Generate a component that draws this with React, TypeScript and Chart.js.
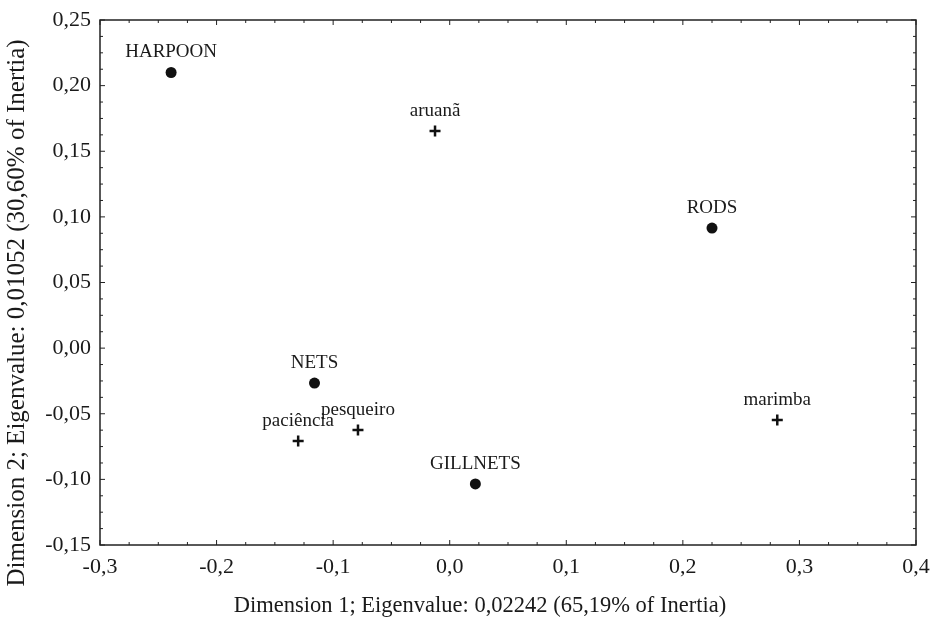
import React, { useEffect, useRef } from "react";
import { Chart, registerables } from "chart.js";

Chart.register(...registerables);

// Column categories (circles)
const categoryLabels = ["HARPOON", "RODS", "NETS", "GILLNETS"];
const categoryX = [-0.239, 0.225, -0.116, 0.022];
const categoryY = [0.21, 0.0915, -0.0266, -0.1035];

// Row points (crosses)
const siteLabels = ["aruanã", "pesqueiro", "paciência", "marimba"];
const siteX = [-0.0126, -0.0787, -0.13, 0.281];
const siteY = [0.1654, -0.0624, -0.0708, -0.0548];

const xTickValues = [-0.3, -0.2, -0.1, 0.0, 0.1, 0.2, 0.3, 0.4];
const yTickValues = [-0.15, -0.1, -0.05, 0.0, 0.05, 0.1, 0.15, 0.2, 0.25];

const xTitle = "Dimension 1; Eigenvalue: 0,02242 (65,19% of Inertia)";
const yTitle = "Dimension 2; Eigenvalue: 0,01052 (30,60% of Inertia)";

const FONT = "'Liberation Serif', 'Times New Roman', serif";
const INK = "#1a1a1a";

const pointLabelsPlugin = {
  id: "pointLabels",
  afterDatasetsDraw(chart: any) {
    const ctx = chart.ctx;
    ctx.save();
    ctx.fillStyle = INK;
    ctx.textAlign = "center";
    ctx.textBaseline = "middle";
    chart.data.datasets.forEach((ds: any, di: number) => {
      const meta = chart.getDatasetMeta(di);
      ctx.font = `${ds.labelFontSize}px ${FONT}`;
      meta.data.forEach((el: any, i: number) => {
        ctx.fillText(ds.pointNames[i], el.x, el.y - 20);
      });
    });
    ctx.restore();
  },
};

const frameAndTitlesPlugin = {
  id: "frameAndTitles",
  afterDraw(chart: any) {
    const ctx = chart.ctx;
    const { left, right, top, bottom } = chart.chartArea;
    const xs = chart.scales.x;
    const ys = chart.scales.y;
    ctx.save();
    ctx.strokeStyle = "#222";
    ctx.lineWidth = 1.5;
    ctx.strokeRect(left, top, right - left, bottom - top);

    // minor/major inward ticks
    ctx.lineWidth = 1;
    ctx.beginPath();
    for (let v = -0.3; v <= 0.4001; v += 0.025) {
      const px = xs.getPixelForValue(v);
      const major = Math.abs(v * 10 - Math.round(v * 10)) < 1e-6;
      const len = major ? 5 : 3;
      ctx.moveTo(px, bottom);
      ctx.lineTo(px, bottom - len);
      ctx.moveTo(px, top);
      ctx.lineTo(px, top + len);
    }
    for (let v = -0.15; v <= 0.2501; v += 0.0125) {
      const py = ys.getPixelForValue(v);
      const major = Math.abs(v * 20 - Math.round(v * 20)) < 1e-6;
      const len = major ? 5 : 3;
      ctx.moveTo(left, py);
      ctx.lineTo(left + len, py);
      ctx.moveTo(right, py);
      ctx.lineTo(right - len, py);
    }
    ctx.stroke();

    // axis titles
    ctx.fillStyle = INK;
    ctx.font = `22.5px ${FONT}`;
    ctx.textAlign = "center";
    ctx.textBaseline = "middle";
    ctx.fillText(xTitle, 480, 606);
    ctx.save();
    ctx.translate(17, 313);
    ctx.rotate(-Math.PI / 2);
    ctx.font = `25px ${FONT}`;
    ctx.fillText(yTitle, 0, 0);
    ctx.restore();
    ctx.restore();
  },
};

export default function App() {
  const canvasRef = useRef<HTMLCanvasElement | null>(null);

  useEffect(() => {
    if (!canvasRef.current) return;
    const chart = new Chart(canvasRef.current, {
      type: "scatter",
      data: {
        datasets: [
          {
            label: "categories",
            data: categoryX.map((x, i) => ({ x, y: categoryY[i] })),
            pointNames: categoryLabels,
            labelFontSize: 19,
            pointStyle: "circle",
            pointRadius: 5.5,
            backgroundColor: "#111",
            borderColor: "#111",
            borderWidth: 0,
          } as any,
          {
            label: "sites",
            data: siteX.map((x, i) => ({ x, y: siteY[i] })),
            pointNames: siteLabels,
            labelFontSize: 19,
            pointStyle: "cross",
            pointRadius: 5.5,
            backgroundColor: "#111",
            borderColor: "#111",
            borderWidth: 2.5,
          } as any,
        ],
      },
      options: {
        animation: false,
        responsive: false,
        maintainAspectRatio: false,
        layout: { padding: { top: 20, right: 16, left: 0, bottom: 0 } },
        plugins: {
          legend: { display: false },
          tooltip: { enabled: false },
          title: { display: false },
        },
        scales: {
          x: {
            type: "linear",
            min: -0.3,
            max: 0.4,
            afterBuildTicks: (scale: any) => {
              scale.ticks = xTickValues.map((v) => ({ value: v }));
            },
            afterFit: (scale: any) => {
              scale.height = 81;
              scale.paddingLeft = 0;
              scale.paddingRight = 0;
            },
            grid: { display: false, drawTicks: false },
            border: { display: false },
            ticks: {
              padding: 9,
              color: INK,
              font: { family: FONT, size: 22 },
              callback: (v: any) => Number(v).toFixed(1).replace(".", ","),
              maxRotation: 0,
            },
          },
          y: {
            type: "linear",
            min: -0.15,
            max: 0.25,
            afterBuildTicks: (scale: any) => {
              scale.ticks = yTickValues.map((v) => ({ value: v }));
            },
            afterFit: (scale: any) => {
              scale.width = 100;
              scale.paddingTop = 0;
              scale.paddingBottom = 0;
            },
            grid: { display: false, drawTicks: false },
            border: { display: false },
            ticks: {
              padding: 9,
              color: INK,
              font: { family: FONT, size: 22 },
              callback: (v: any) => Number(v).toFixed(2).replace(".", ","),
            },
          },
        },
      } as any,
      plugins: [pointLabelsPlugin, frameAndTitlesPlugin],
    });
    return () => chart.destroy();
  }, []);

  return (
    <div style={{ position: "fixed", left: 0, top: 0, width: 932, height: 626, background: "#fff" }}>
      <canvas ref={canvasRef} width={932} height={626} style={{ display: "block" }} />
    </div>
  );
}
